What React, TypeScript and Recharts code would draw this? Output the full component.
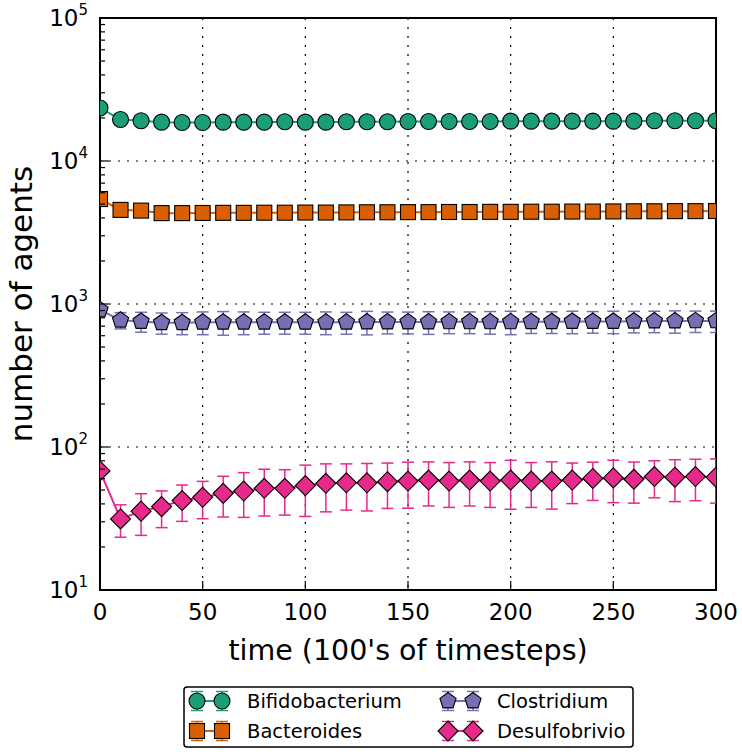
import React from 'react';
import { LineChart, Line, XAxis, YAxis, CartesianGrid, ErrorBar, ReferenceArea, Legend, Label } from 'recharts';

const FONT = '"DejaVu Sans", Verdana, sans-serif';

const times = [0, 10, 20, 30, 40, 50, 60, 70, 80, 90, 100, 110, 120, 130, 140, 150, 160, 170, 180, 190, 200, 210, 220, 230, 240, 250, 260, 270, 280, 290, 300];

const bifidobacterium = [23500, 19500, 19100, 18700, 18600, 18600, 18700, 18700, 18700, 18800, 18700, 18700, 18800, 18800, 18800, 18900, 18900, 18900, 18900, 18900, 19000, 19000, 19000, 19000, 19000, 19000, 19000, 19100, 19100, 19100, 19100];
const bifidobacteriumErr = [0, 900, 900, 900, 900, 900, 900, 900, 900, 900, 900, 900, 900, 900, 900, 900, 900, 900, 900, 900, 900, 900, 900, 900, 900, 900, 900, 900, 900, 900, 900];

const bacteroides = [5420, 4550, 4500, 4320, 4320, 4330, 4340, 4340, 4350, 4350, 4360, 4360, 4370, 4380, 4380, 4390, 4390, 4400, 4400, 4410, 4410, 4420, 4420, 4430, 4430, 4440, 4450, 4450, 4460, 4460, 4470];
const bacteroidesErr = [0, 220, 220, 220, 220, 220, 220, 220, 220, 220, 220, 220, 220, 220, 220, 220, 220, 220, 220, 220, 220, 220, 220, 220, 220, 220, 220, 220, 220, 220, 220];

const clostridium = [910, 770, 755, 740, 740, 745, 745, 745, 745, 745, 745, 745, 745, 748, 748, 748, 748, 750, 750, 750, 750, 752, 752, 755, 755, 755, 758, 760, 760, 762, 762];
const clostridiumErr = [0, 100, 120, 125, 130, 135, 140, 135, 130, 130, 130, 135, 130, 140, 130, 130, 135, 130, 130, 135, 140, 130, 130, 135, 130, 135, 130, 130, 135, 130, 130];

const desulfobrivio = [68, 31.4, 35.6, 38.3, 42.2, 44.5, 47.4, 49.2, 51.4, 51.4, 53.7, 55.7, 56.2, 56.2, 57.2, 57.8, 58.7, 57.8, 58.7, 57.8, 58.7, 57.8, 57.8, 58.7, 60.3, 60.8, 59.5, 62.1, 61.5, 62.1, 61.5];
const desulfobrivioErr = [0, 8, 11.5, 11, 12, 13, 15, 17, 18.5, 18, 21, 20.5, 20, 20.5, 20, 20.5, 20, 20, 20, 20, 22, 20, 21, 18.5, 18, 20, 19, 18, 20, 20, 21];

const seriesNames = ['Bifidobacterium', 'Bacteroides', 'Clostridium', 'Desulfobrivio'];
const seriesKeys = ['bif', 'bac', 'clo', 'des'];
const seriesColors = ['#1b9e77', '#d95f02', '#7570b3', '#e7298a'];
const seriesMarkers = ['circle', 'square', 'pentagon', 'diamond'];

const xTicks = [0, 50, 100, 150, 200, 250, 300];
const xGridValues = [50, 100, 150, 200, 250];
const yTicks = [
  10, 20, 30, 40, 50, 60, 70, 80, 90,
  100, 200, 300, 400, 500, 600, 700, 800, 900,
  1000, 2000, 3000, 4000, 5000, 6000, 7000, 8000, 9000,
  10000, 20000, 30000, 40000, 50000, 60000, 70000, 80000, 90000,
  100000,
];
const yGridValues = [100, 1000, 10000];

const CHART_W = 742;
const CHART_H = 755;
const MARGIN = { top: 18, right: 26, bottom: 85, left: 0 };
const Y_AXIS_W = 100;
const X_AXIS_H = 80;

const data = times.map((t, i) => ({
  t,
  bif: bifidobacterium[i],
  bifErr: bifidobacteriumErr[i],
  bac: bacteroides[i],
  bacErr: bacteroidesErr[i],
  clo: clostridium[i],
  cloErr: clostridiumErr[i],
  des: desulfobrivio[i],
  desErr: desulfobrivioErr[i],
}));

function drawMarker(kind: string, cx: number, cy: number, color: string, key?: any) {
  const common = { fill: color, stroke: '#000', strokeWidth: 1.1 };
  if (kind === 'circle') return <circle key={key} cx={cx} cy={cy} r={8} {...common} />;
  if (kind === 'square') return <rect key={key} x={cx - 7.5} y={cy - 7.5} width={15} height={15} {...common} />;
  if (kind === 'pentagon') {
    const r = 8.5;
    const pts = [0, 1, 2, 3, 4]
      .map((i) => {
        const a = ((-90 + 72 * i) * Math.PI) / 180;
        return `${cx + r * Math.cos(a)},${cy + r * Math.sin(a)}`;
      })
      .join(' ');
    return <polygon key={key} points={pts} {...common} />;
  }
  const h = 10;
  return <polygon key={key} points={`${cx},${cy - h} ${cx + h},${cy} ${cx},${cy + h} ${cx - h},${cy}`} {...common} />;
}

const makeDot = (kind: string, color: string) => (props: any) => {
  const { cx, cy, index } = props;
  if (cx == null || cy == null) return <g key={index} />;
  return drawMarker(kind, cx, cy, color, index);
};

const isMajor = (v: number) => {
  const e = Math.round(Math.log10(v));
  return Math.abs(v - Math.pow(10, e)) < 1e-6 * v;
};

const YTickLeft = (props: any) => {
  const { x, y, payload } = props;
  const v = payload.value;
  const major = isMajor(v);
  const exp = Math.round(Math.log10(v));
  return (
    <g>
      <line x1={x} y1={y} x2={x + (major ? 9 : 5)} y2={y} stroke="#000" strokeWidth={1.2} />
      {major && (
        <text x={x - 12} y={y + 8} textAnchor="end" fontFamily={FONT} fontSize={23} fill="#000">
          10<tspan dy={-11} fontSize={15}>{exp}</tspan>
        </text>
      )}
    </g>
  );
};

const YTickRight = (props: any) => {
  const { x, y, payload } = props;
  const major = isMajor(payload.value);
  return <line x1={x} y1={y} x2={x - (major ? 9 : 5)} y2={y} stroke="#000" strokeWidth={1.2} />;
};

const XTickBottom = (props: any) => {
  const { x, y, payload } = props;
  return (
    <g>
      <line x1={x} y1={y} x2={x} y2={y - 9} stroke="#000" strokeWidth={1.2} />
      <text x={x} y={y + 30} textAnchor="middle" fontFamily={FONT} fontSize={23} fill="#000">
        {payload.value}
      </text>
    </g>
  );
};

const XTickTop = (props: any) => {
  const { x, y } = props;
  return <line x1={x} y1={y} x2={x} y2={y + 9} stroke="#000" strokeWidth={1.2} />;
};

const LegendBox = () => {
  const rows = [15, 45];
  const cols = [
    { m1: 14, m2: 39, tx: 64 },
    { m1: 265, m2: 290, tx: 314 },
  ];
  const order = [0, 2, 1, 3];
  return (
    <svg width={452} height={63} style={{ display: 'block' }}>
      <rect x={1} y={1} width={449} height={60} rx={3} fill="#fff" stroke="#000" strokeWidth={1.5} />
      {order.map((si, k) => {
        const col = cols[k % 2];
        const cy = rows[Math.floor(k / 2)];
        const color = seriesColors[si];
        return (
          <g key={si}>
            <line x1={col.m1} y1={cy} x2={col.m2} y2={cy} stroke={color} strokeWidth={2} />
            {[col.m1, col.m2].map((mx) => (
              <g key={mx}>
                <line x1={mx} y1={cy - 9.5} x2={mx} y2={cy + 9.5} stroke={color} strokeWidth={1.5} />
                <line x1={mx - 6} y1={cy - 9.5} x2={mx + 6} y2={cy - 9.5} stroke={color} strokeWidth={1.5} />
                <line x1={mx - 6} y1={cy + 9.5} x2={mx + 6} y2={cy + 9.5} stroke={color} strokeWidth={1.5} />
              </g>
            ))}
            {drawMarker(seriesMarkers[si], col.m1, cy, color, 'a')}
            {drawMarker(seriesMarkers[si], col.m2, cy, color, 'b')}
            <text x={col.tx} y={cy + 7} fontFamily={FONT} fontSize={19.5} fill="#000">
              {seriesNames[si]}
            </text>
          </g>
        );
      })}
    </svg>
  );
};

export default function App() {
  const plotX = MARGIN.left + Y_AXIS_W;
  const plotY = MARGIN.top;
  const plotW = CHART_W - MARGIN.right - plotX;
  const plotH = CHART_H - MARGIN.bottom - X_AXIS_H - plotY;
  return (
    <div style={{ position: 'absolute', left: 0, top: 0, width: CHART_W, height: CHART_H, background: '#fff' }}>
      <svg width={0} height={0} style={{ position: 'absolute' }}>
        <defs>
          <clipPath id="plotAreaClip" clipPathUnits="userSpaceOnUse">
            <rect x={plotX} y={plotY} width={plotW} height={plotH} />
          </clipPath>
        </defs>
      </svg>
      <LineChart width={CHART_W} height={CHART_H} data={data} margin={MARGIN}>
        <CartesianGrid
          horizontal
          vertical
          horizontalValues={yGridValues}
          verticalValues={xGridValues}
          stroke="#000"
          strokeWidth={1.2}
          strokeDasharray="2 7"
        />
        <XAxis
          dataKey="t"
          type="number"
          domain={[0, 300]}
          ticks={xTicks}
          interval={0}
          allowDataOverflow
          axisLine={false}
          tickLine={false}
          tickSize={0}
          tickMargin={0}
          height={X_AXIS_H}
          tick={<XTickBottom />}
        >
          <Label
            content={(p: any) => {
              const vb = p.viewBox;
              return (
                <text x={vb.x + vb.width / 2} y={vb.y + 70} textAnchor="middle" fontFamily={FONT} fontSize={28.5} fill="#000">
                  time (100's of timesteps)
                </text>
              );
            }}
          />
        </XAxis>
        <XAxis
          xAxisId="top"
          orientation="top"
          dataKey="t"
          type="number"
          domain={[0, 300]}
          ticks={xTicks}
          interval={0}
          allowDataOverflow
          axisLine={false}
          tickLine={false}
          tickSize={0}
          tickMargin={0}
          height={0}
          tick={<XTickTop />}
        />
        <YAxis
          type="number"
          scale="log"
          domain={[10, 100000]}
          ticks={yTicks}
          interval={0}
          allowDataOverflow
          axisLine={false}
          tickLine={false}
          tickSize={0}
          tickMargin={0}
          width={Y_AXIS_W}
          tick={<YTickLeft />}
        >
          <Label
            content={(p: any) => {
              const vb = p.viewBox;
              const cx = vb.x + 32;
              const cy = vb.y + vb.height / 2;
              return (
                <text x={cx} y={cy} transform={`rotate(-90, ${cx}, ${cy})`} textAnchor="middle" fontFamily={FONT} fontSize={31} fill="#000">
                  number of agents
                </text>
              );
            }}
          />
        </YAxis>
        <YAxis
          yAxisId="right"
          orientation="right"
          type="number"
          scale="log"
          domain={[10, 100000]}
          ticks={yTicks}
          interval={0}
          allowDataOverflow
          axisLine={false}
          tickLine={false}
          tickSize={0}
          tickMargin={0}
          width={0}
          tick={<YTickRight />}
        />
        {seriesKeys.map((k, i) => (
          <Line
            key={k}
            type="linear"
            dataKey={k}
            name={seriesNames[i]}
            stroke={seriesColors[i]}
            strokeWidth={2}
            dot={makeDot(seriesMarkers[i], seriesColors[i])}
            activeDot={false}
            isAnimationActive={false}
          >
            <ErrorBar
              dataKey={`${k}Err`}
              direction="y"
              width={6}
              strokeWidth={1.5}
              stroke={seriesColors[i]}
              clipPath="url(#plotAreaClip)"
              isAnimationActive={false}
            />
          </Line>
        ))}
        <ReferenceArea x1={0} x2={300} y1={10} y2={100000} fill="none" stroke="#000" strokeWidth={2} ifOverflow="visible" />
        <Legend
          layout="horizontal"
          verticalAlign="middle"
          align="center"
          wrapperStyle={{ left: 183, top: 686, width: 452, height: 63 }}
          content={() => <LegendBox />}
        />
      </LineChart>
    </div>
  );
}
